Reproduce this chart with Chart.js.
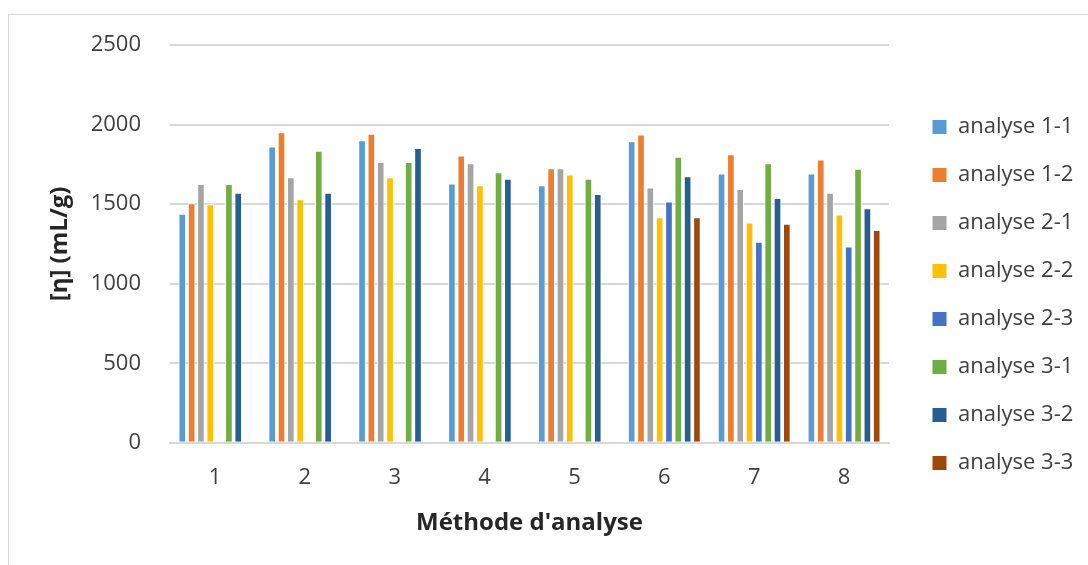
<!DOCTYPE html>
<html>
<head>
<meta charset="utf-8">
<script src="https://cdn.jsdelivr.net/npm/chart.js@4"></script>
<style>
    body { margin: 0; background: #ffffff; }
    #frame {
        position: absolute;
        left: 8px;
        top: 14px;
        width: 1080px;
        height: 551px;
        border-left: 1px solid #d9d9d9;
        border-top: 1px solid #d9d9d9;
    }
    #chart { display: block; }
</style>
</head>
<body>
<div id="frame">
    <canvas id="chart" width="1079" height="550"></canvas>
</div>
<script>
// Chart data
const methods = ['1', '2', '3', '4', '5', '6', '7', '8'];
const seriesNames = ['analyse 1-1', 'analyse 1-2', 'analyse 2-1', 'analyse 2-2',
                     'analyse 2-3', 'analyse 3-1', 'analyse 3-2', 'analyse 3-3'];
const analyse11 = [1440, 1862, 1901, 1629, 1618, 1895, 1692, 1692];
const analyse12 = [1505, 1952, 1943, 1805, 1725, 1937, 1813, 1780];
const analyse21 = [1627, 1669, 1765, 1757, 1725, 1604, 1595, 1572];
const analyse22 = [1499, 1530, 1669, 1618, 1686, 1417, 1384, 1434];
const analyse23 = [null, null, null, null, null, 1516, 1264, 1233];
const analyse31 = [1627, 1836, 1765, 1700, 1660, 1797, 1757, 1723];
const analyse32 = [1572, 1572, 1853, 1660, 1564, 1675, 1539, 1474];
const analyse33 = [null, null, null, null, null, 1417, 1377, 1338];
const yTicks = [0, 500, 1000, 1500, 2000, 2500];

const seriesValues = [analyse11, analyse12, analyse21, analyse22, analyse23, analyse31, analyse32, analyse33];
const colors = ['#5B9BD5', '#ED7D31', '#A5A5A5', '#FFC000', '#4472C4', '#70AD47', '#255E91', '#9E480E'];

const FONT = 'Open Sans';

const datasets = seriesNames.map((name, i) => ({
    label: name,
    data: seriesValues[i],
    backgroundColor: colors[i],
    borderColor: '#ffffff',
    borderWidth: 1,
    categoryPercentage: 0.83,
    barPercentage: 0.82
}));

const ctx = document.getElementById('chart').getContext('2d');
const chart = new Chart(ctx, {
    type: 'bar',
    data: {
        labels: methods,
        datasets: datasets
    },
    options: {
        responsive: false,
        animation: false,
        layout: {
            padding: { top: 30, bottom: 20, left: 37, right: 10 }
        },
        plugins: {
            legend: {
                position: 'right',
                labels: {
                    boxWidth: 15,
                    boxHeight: 15,
                    padding: 26,
                    color: '#404040',
                    font: { family: FONT, size: 22 }
                }
            },
            tooltip: { enabled: false }
        },
        scales: {
            x: {
                grid: { display: false, drawTicks: false },
                border: { color: '#d9d9d9', width: 2 },
                ticks: {
                    color: '#404040',
                    padding: 22,
                    font: { family: FONT, size: 22 }
                },
                title: {
                    display: true,
                    text: "Méthode d'analyse",
                    color: '#262626',
                    padding: { top: -4, bottom: 7 },
                    font: { family: FONT, size: 24, weight: 'bold' }
                }
            },
            y: {
                min: 0,
                max: 2500,
                afterBuildTicks: axis => {
                    axis.ticks = yTicks.map(v => ({ value: v }));
                },
                afterFit: axis => { axis.width = 124; },
                grid: {
                    color: '#d9d9d9',
                    lineWidth: 2,
                    drawTicks: true,
                    tickLength: 24,
                    tickColor: 'rgba(0,0,0,0)'
                },
                border: { display: false },
                ticks: {
                    color: '#404040',
                    padding: 5,
                    callback: value => String(value),
                    font: { family: FONT, size: 22 }
                },
                title: {
                    display: true,
                    text: '[η] (mL/g)',
                    color: '#262626',
                    padding: { top: 0, bottom: 4 },
                    font: { family: FONT, size: 24, weight: 'bold' }
                }
            },
            // empty axis, only keeps a gap between plot and legend
            gap: {
                position: 'right',
                display: true,
                grid: { display: false },
                border: { display: false },
                ticks: { display: false },
                afterFit: axis => { axis.width = 17; }
            }
        }
    }
});
</script>
</body>
</html>
